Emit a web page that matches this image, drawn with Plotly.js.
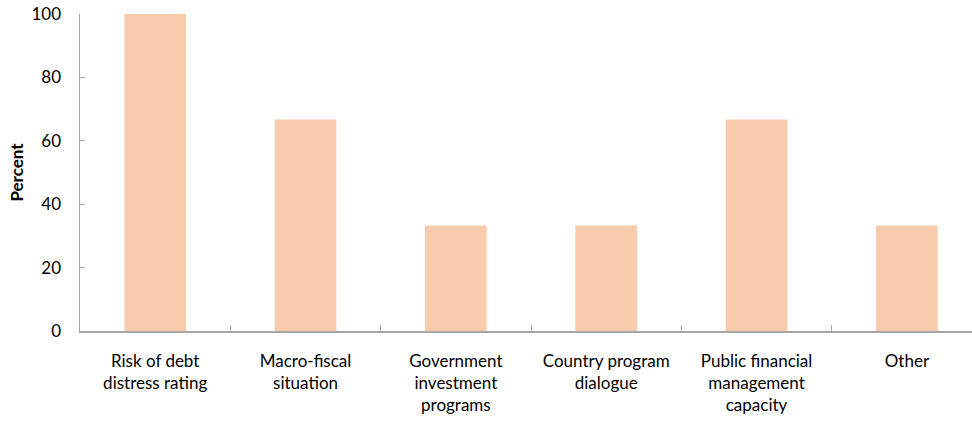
<!DOCTYPE html>
<html>
<head>
<meta charset="utf-8">
<script src="https://cdn.plot.ly/plotly-3.0.1.min.js"></script>
<style>html,body{margin:0;padding:0;background:#fff;overflow:hidden}</style>
</head>
<body>
<div id="chart" style="width:972px;height:421px"></div>
<script>
const categories = [
  "Risk of debt<br>distress rating",
  "Macro-fiscal<br>situation",
  "Government<br>investment<br>programs",
  "Country program<br>dialogue",
  "Public financial<br>management<br>capacity",
  "Other"
];
const percentValues = [100, 66.7, 33.3, 33.3, 66.7, 33.3];
const yTickValues = [0, 20, 40, 60, 80, 100];

const trace = {
  type: "bar",
  x: categories,
  y: percentValues,
  marker: {color: "#F8CBAD"},
  hoverinfo: "skip"
};

const layout = {
  width: 972,
  height: 421,
  margin: {l: 80, r: 0, t: 14, b: 90},
  paper_bgcolor: "#ffffff",
  plot_bgcolor: "#ffffff",
  bargap: 0.59,
  showlegend: false,
  font: {family: "Lato, 'Open Sans', sans-serif", size: 17, color: "#000000"},
  xaxis: {
    type: "category",
    range: [-0.5, 5.433],
    showline: true,
    linecolor: "#a6a6a6",
    linewidth: 1.5,
    showgrid: false,
    zeroline: false,
    ticks: "inside",
    tickson: "boundaries",
    ticklen: 6,
    tickcolor: "#a6a6a6",
    tickwidth: 1,
    ticklabelstandoff: 14,
    tickfont: {family: "Lato, sans-serif", size: 17, color: "#000"}
  },
  yaxis: {
    range: [0, 100],
    tickvals: yTickValues,
    showline: true,
    linecolor: "#a6a6a6",
    linewidth: 1.5,
    showgrid: false,
    zeroline: false,
    ticks: "inside",
    ticklen: 5,
    tickcolor: "#a6a6a6",
    tickwidth: 1,
    ticklabelstandoff: 14,
    tickfont: {family: "Lato, sans-serif", size: 17, color: "#000"},
    title: {text: "<b>Percent</b>", font: {family: "Lato, sans-serif", size: 17, color: "#000"}, standoff: 3}
  }
};

Plotly.newPlot("chart", [trace], layout, {displayModeBar: false, staticPlot: true});
</script>
</body>
</html>
